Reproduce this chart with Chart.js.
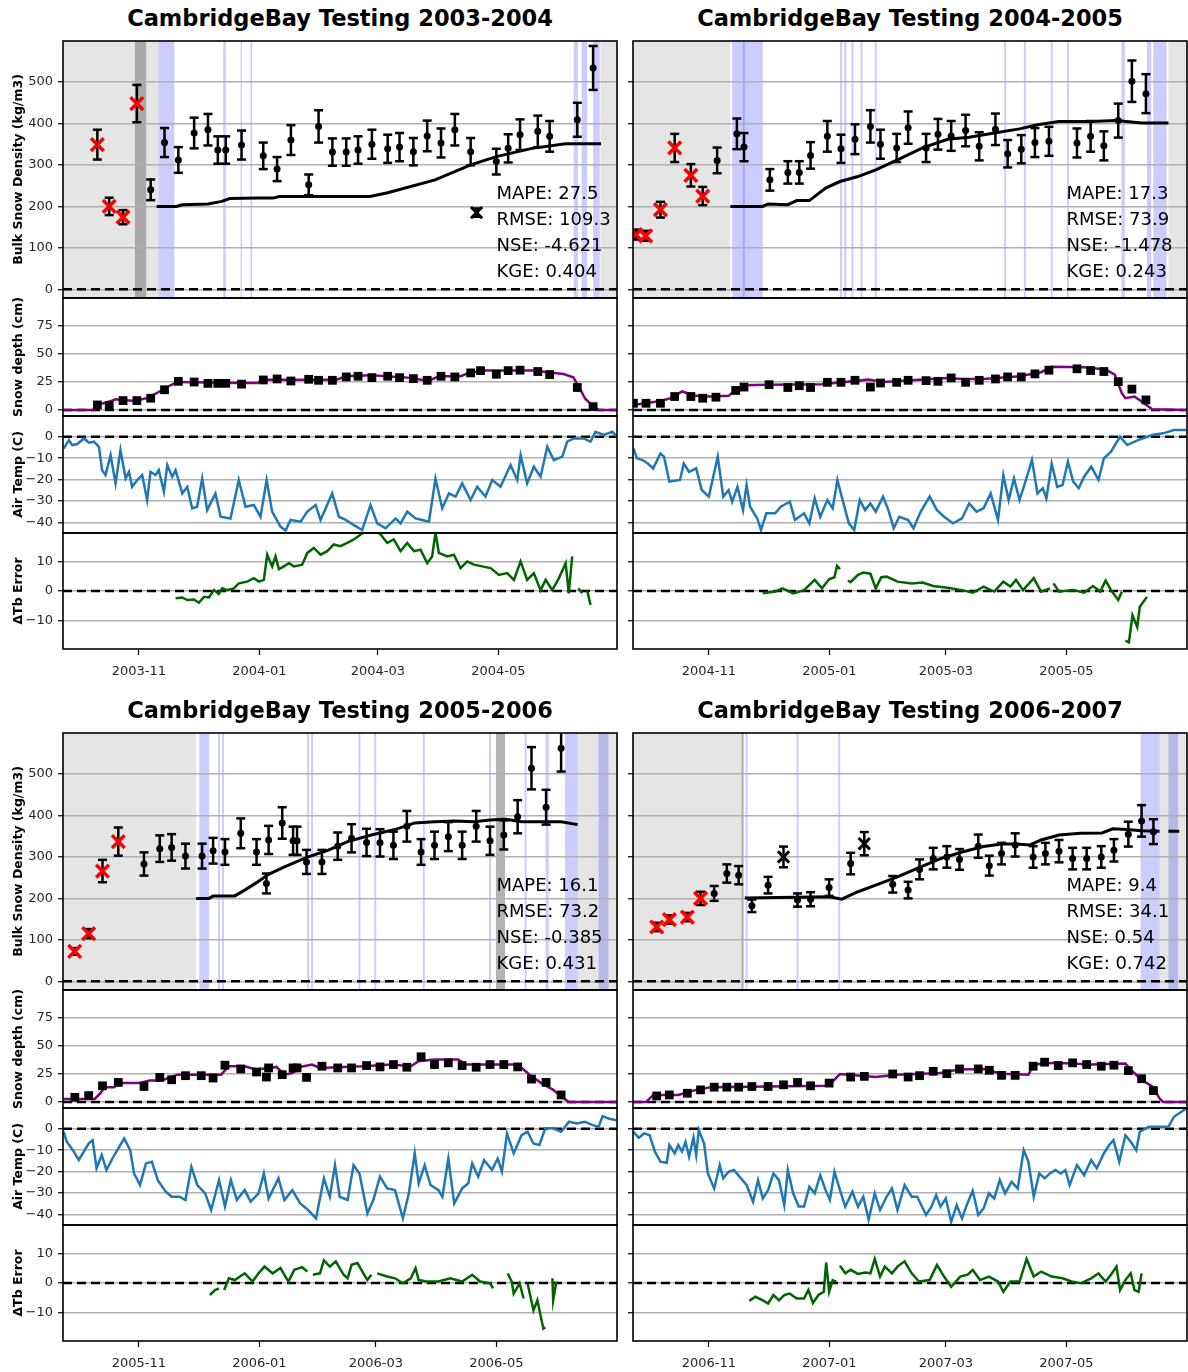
<!DOCTYPE html>
<html>
<head>
<meta charset="utf-8">
<script src="https://cdn.jsdelivr.net/npm/chart.js@4.4.1/dist/chart.umd.min.js"></script>
<style>
  html, body { margin: 0; padding: 0; background: #fff; overflow: hidden; }
  #stage { position: relative; width: 1188px; height: 1372px; overflow: hidden; background: #fff; }
  .title { position: absolute; width: 554px; text-align: center; font: bold 22.5px 'DejaVu Sans', sans-serif; line-height: 26px; color: #000; white-space: nowrap; }
  canvas { position: absolute; }
</style>
</head>
<body>
<div id="stage"></div>
<script>
// x values are days counted from 1 November of each season's first year

// ---- 2003-2004 ----
const STATS_0304 = ['MAPE: 27.5', 'RMSE: 109.3', 'NSE: -4.621', 'KGE: 0.404'];
// [day, density, error, kind]  kind: r = flagged (red x), k = normal, x = black x
const OBS_0304 = [
  [-21, 349, 36, 'r'], [-15, 200, 21, 'r'], [-8, 174, 17, 'r'], [-1, 448, 45, 'r'],
  [6, 240, 25, 'k'], [13, 354, 35, 'k'], [20, 312, 31, 'k'], [28, 377, 37, 'k'], [35, 385, 38, 'k'],
  [40, 336, 33, 'k'], [44, 336, 33, 'k'], [52, 348, 35, 'k'], [63, 322, 32, 'k'], [70, 290, 29, 'k'],
  [77, 360, 36, 'k'], [86, 252, 25, 'k'], [91, 393, 39, 'k'], [98, 331, 33, 'k'], [105, 331, 33, 'k'],
  [111, 336, 33, 'k'], [118, 350, 35, 'k'], [126, 339, 34, 'k'], [132, 343, 34, 'k'], [139, 332, 33, 'k'],
  [146, 370, 37, 'k'], [153, 353, 35, 'k'], [160, 385, 38, 'k'], [168, 332, 33, 'k'], [171, 185, 10, 'x'],
  [181, 308, 31, 'k'], [187, 340, 34, 'k'], [193, 373, 37, 'k'], [202, 381, 38, 'k'], [208, 369, 37, 'k'],
  [222, 409, 41, 'k'], [230, 534, 53, 'k']
];
const MODEL_0304 = [[9, 200], [19, 200], [22, 204], [35, 206], [42, 212], [46, 219], [60, 220], [68, 220], [71, 224],
  [117, 224], [126, 233], [150, 264], [168, 300], [181, 320], [199, 340], [216, 351], [234, 351]];
// [from, to, kind]  g = light gray, d = dark gray, b = blue
const SPANS_0304 = [[-38.4, 10, 'g'], [233.7, 242.1, 'g'], [-2, 3.7, 'd'], [10, 18, 'b'], [42.7, 44, 'b'],
  [51.5, 52.2, 'b'], [56.5, 57.4, 'b'], [220.2, 222.3, 'b'], [224.2, 227, 'b'], [230, 233.4, 'b']];
const DEPTH_OBS_0304 = [[-21, 4.5], [-15, 4], [-8, 8.4], [-1, 8.4], [6, 10.5], [13, 18], [20, 25.5], [28, 24.9],
  [35, 23.7], [40, 23.7], [44, 23.7], [52, 23], [63, 26.7], [70, 27.6], [77, 25.8], [86, 27.3], [91, 26.4],
  [98, 26.4], [105, 29.4], [111, 30], [118, 28.8], [126, 30], [132, 28.8], [139, 27.9], [146, 26.4], [153, 30],
  [160, 29.4], [168, 33], [173, 35], [181, 31.8], [187, 35], [193, 35.4], [202, 34.2], [208, 31.5], [222, 20], [230, 3]];
const DEPTH_MODEL_0304 = [[-38.4, 0], [-23, 0], [-20, 5], [-14, 8], [-12, 9.5], [-2, 8], [5, 11], [12, 18], [16, 22],
  [20, 25], [50, 24], [60, 24], [63, 27], [90, 27], [100, 27], [105, 30], [117, 31], [125, 30], [135, 29], [143, 27],
  [148, 27], [152, 30], [163, 30], [167, 33], [175, 35], [200, 35], [205, 34], [215, 32], [220, 29], [223, 20],
  [226, 10], [229, 5], [233, 0], [242.1, 0]];
const AIRT_0304 = [[-38, -5.5], [-35.4, -1.6], [-33.7, -3.9], [-31.2, -3.4], [-27.8, -0.8], [-25.3, -2.8], [-22.7, -2.3],
  [-20.2, -4.7], [-18.6, -15.6], [-16.9, -17.9], [-14.3, -8.6], [-11.8, -21.8], [-9.3, -6.2], [-6.7, -19.5], [-5, -16.4],
  [-3.4, -23.4], [-0.8, -20.2], [1.7, -17.9], [4.2, -29.6], [5.9, -16.4], [8.4, -17.9], [10.1, -15.6], [12.7, -25.7],
  [14.4, -13.2], [16.9, -18.7], [18.6, -15.6], [22, -26.5], [24.5, -23.4], [27, -33.5], [29.5, -32.7], [32.1, -19.5],
  [34.6, -34.3], [38.8, -26.5], [41.4, -37.4], [46.4, -38.2], [50.6, -20.2], [54, -32.7], [58.2, -31.9], [61.6, -37.4],
  [64.7, -20.2], [67.5, -35], [71.7, -42], [74.3, -43.9], [76.8, -38.9], [81.9, -39.7], [85.3, -35], [89.5, -31.9],
  [92, -38.9], [97.9, -26.5], [101.3, -37.4], [104.7, -38.9], [108.9, -41.3], [113.1, -43.6], [117.3, -31.9],
  [120.7, -40.5], [124.9, -42.8], [130, -38.2], [132.5, -40.5], [135.9, -35], [140.1, -38.2], [143.5, -38.9],
  [146.9, -39.7], [150.2, -19.5], [153.6, -33.5], [157, -26.5], [160.4, -28], [163.7, -21.8], [168, -29.6],
  [171.3, -23.4], [175.5, -28], [178.9, -20.2], [183.1, -23.4], [188.2, -13.2], [191.6, -20.2], [193.3, -8.6],
  [196.6, -21.8], [200, -14], [203.4, -18.7], [206.8, -4.7], [210.1, -10.9], [214.4, -9.3], [216.9, -2.3],
  [220.3, -0.8], [225.3, -0.8], [228.7, -2.3], [231.2, 2.3], [235.5, 0.8], [239.7, 2.3], [242.2, 0]];
const DTB_0304 = [[18.6, -2.5], [22, -2.2], [24.5, -3.1], [27.9, -2.9], [30.4, -4], [33, -2], [35.5, -2.2], [38, 0.3],
  [40.5, -1], [42.2, 0.9], [44.7, 0.3], [48.1, 0.9], [50.6, 2.6], [54.9, 3.2], [58.2, 4.4], [60.8, 3.2], [63.3, 3.8],
  [65, 12.4], [67.5, 8.4], [69.2, 11.8], [70.9, 7.5], [73.4, 8.4], [76, 9.5], [78.5, 8.4], [82.7, 9], [85.3, 13],
  [88.6, 14.7], [92, 12.4], [95.4, 13.6], [98.7, 15.9], [102.1, 15.3], [105.5, 16.4], [108.9, 17.6], [112.3, 19.3],
  [115.6, 20.5], [119, 21], [122.4, 19.3], [125.8, 16.4], [129.1, 17.6], [132.5, 13.6], [135.9, 16.4], [139.3, 13.6],
  [142.6, 14.1], [146, 9.5], [148.5, 11.8], [150.2, 19.9], [151.9, 13], [156.1, 11.8], [159.5, 12.4], [162.9, 7.8],
  [166.3, 10.1], [169.6, 9], [173.9, 8.4], [178.1, 7.8], [182.3, 5.5], [186.5, 6.1], [189.9, 3.8], [193.3, 10.1],
  [196.6, 3.8], [200, 6.1], [203.4, 0.3], [206, 3.8], [209.3, 0.3], [212.7, 4.4], [216.1, 9.5], [217.7, -0.8],
  [219.4, 11.8], [220.5, null], [222.5, 0.9], [224.5, -0.8], [225.5, null], [227, 0.1], [228.7, -4.8]];

// ---- 2004-2005 ----
const STATS_0405 = ['MAPE: 17.3', 'RMSE: 73.9', 'NSE: -1.478', 'KGE: 0.243'];
const OBS_0405 = [
  [-37, 132, 12, 'r'], [-32, 129, 12, 'r'], [-24.5, 192, 19, 'r'], [-17.3, 341, 34, 'r'], [-9.1, 275, 27, 'r'],
  [-3.1, 225, 22, 'r'], [4.2, 311, 31, 'k'], [14.2, 375, 37, 'k'], [17.8, 343, 34, 'k'], [30.9, 264, 26, 'k'],
  [40, 282, 27, 'k'], [45.8, 282, 27, 'k'], [51.5, 323, 32, 'k'], [60, 369, 37, 'k'], [66.9, 339, 34, 'k'],
  [74, 362, 36, 'k'], [81.8, 393, 39, 'k'], [86.9, 350, 35, 'k'], [95.1, 341, 34, 'k'], [100.9, 390, 39, 'k'],
  [110, 341, 34, 'k'], [116, 374, 37, 'k'], [122.7, 370, 36, 'k'], [130, 383, 38, 'k'], [136.9, 345, 34, 'k'],
  [145.1, 386, 38, 'k'], [151.3, 327, 33, 'k'], [158.2, 338, 34, 'k'], [165.1, 354, 35, 'k'], [172.2, 357, 35, 'k'],
  [186.4, 353, 35, 'k'], [193.3, 369, 37, 'k'], [200, 346, 35, 'k'], [207.3, 407, 41, 'k'], [214.2, 502, 50, 'k'],
  [221.3, 472, 47, 'k']
];
const MODEL_0405 = [[10.9, 200], [27.3, 200], [30, 206], [40, 204], [44.5, 214], [50.9, 214], [59.1, 244], [66.4, 260],
  [75.5, 272], [84.5, 288], [95.5, 312], [108.2, 341], [120.9, 362], [131.8, 367], [144.5, 377], [157.3, 387],
  [166.4, 397], [177.3, 405], [193.6, 405], [206.4, 407], [219.1, 401], [232.7, 401]];
const SPANS_0405 = [[-38.4, 10.9, 'g'], [232.7, 242.1, 'g'], [11.8, 27.3, 'b'], [17.2, 18.2, 'b'], [66.4, 67.5, 'b'],
  [68.5, 69.6, 'b'], [72.2, 73.2, 'b'], [76.8, 77.8, 'b'], [84, 85, 'b'], [149.5, 150.5, 'b'], [159.5, 160.5, 'b'],
  [173.1, 174.1, 'b'], [181.3, 182.3, 'b'], [208.9, 210.6, 'b'], [221.8, 224, 'b'], [225, 231.8, 'b']];
const DEPTH_OBS_0405 = [[-38.2, 6], [-31.8, 6], [-24.5, 6], [-17.3, 12], [-9.1, 12], [-3.1, 10.5], [3.6, 11.4],
  [13.6, 17.4], [17.8, 20.4], [30.5, 22.5], [40, 20], [45.8, 21.6], [51.5, 20], [60, 24.6], [66.9, 24.6], [74, 26.4],
  [81.8, 20.4], [86.9, 24], [95.1, 24.6], [100.9, 26.4], [110, 26.1], [116, 25.5], [122.7, 28.5], [130, 24.6],
  [136.9, 26.4], [145.1, 27.6], [151.3, 29.4], [158.2, 29.4], [165.1, 32.1], [172.2, 35.4], [186.4, 36.6],
  [193.3, 35.1], [200, 34.2], [207.3, 25.2], [214.2, 18.6], [221.3, 9]];
const DEPTH_MODEL_0405 = [[-38.4, 4.5], [-24.5, 8], [-19.1, 10.5], [-13.6, 16.5], [-6.4, 12.6], [0.9, 12], [10, 12.6],
  [13.6, 18], [17.3, 22], [30, 22.5], [57.3, 23], [80.9, 27], [88.2, 25], [120.9, 28.5], [128.2, 27.6], [139.1, 27.6],
  [157.3, 30], [168.2, 33.6], [173.6, 38.4], [190, 38], [200.9, 36], [205.5, 31.5], [209.1, 15], [210.9, 10.5],
  [215.5, 12], [219.1, 7.5], [224.5, 0.6], [242.1, 0]];
const AIRT_0405 = [[-38.2, -5.5], [-36.4, -10.1], [-33.6, -10.9], [-30.9, -12.5], [-28.2, -14.8], [-24.5, -7.8],
  [-22.7, -9.3], [-20, -21], [-14.6, -20.2], [-12.7, -12.5], [-10, -16.4], [-6.4, -14.8], [-3.6, -24.9], [0, -28],
  [4.5, -9.3], [7.3, -28], [10, -24.9], [11.8, -30.4], [14.5, -23.4], [17.3, -34.3], [19.1, -22.6], [20.9, -32.7],
  [24.5, -38.2], [26.4, -43.6], [29.1, -35.8], [33.6, -35.8], [36.4, -32.7], [41, -30.4], [43.6, -38.9], [48.2, -35.8],
  [50.9, -40.5], [53.6, -28.8], [56.4, -37.4], [60, -29.6], [62.7, -33.5], [65.1, -20.2], [68.2, -31.2], [70.9, -40.5],
  [73.6, -43.6], [76.4, -29.6], [79.1, -34.3], [81.8, -31.2], [84.5, -35], [88.2, -28], [90.9, -34.3], [93.6, -42.8],
  [96.4, -37.4], [100.9, -38.9], [103.6, -42.8], [107.3, -35], [111.8, -28], [115.5, -34.3], [119.1, -37.4],
  [123.6, -40.5], [128.2, -38.2], [131.8, -31.2], [135.5, -35], [139.1, -33.5], [142.7, -26.5], [146.4, -38.9],
  [149.1, -17.9], [151.8, -29.6], [154.5, -19.5], [157.3, -29.6], [160, -21.8], [163.6, -10.9], [166.4, -26.5],
  [169.1, -24.1], [170.9, -28.8], [173.6, -12.5], [176.4, -23.4], [179.1, -22.6], [181.8, -11.7], [184.5, -21],
  [187.3, -24.1], [190, -18.7], [193.6, -14], [197.3, -20.2], [200, -10.1], [203.6, -7], [208.2, 0], [211.8, -3.9],
  [217.3, -1.6], [224.5, 0.8], [230, 1.6], [235.5, 3.1], [241.8, 3.1]];
const DTB_0405 = [[27.3, -0.8], [33.6, -0.2], [37.3, 0.9], [42.7, -0.8], [48.2, 0.3], [53.6, 3.8], [57.3, 0.9],
  [60.9, 4], [63.6, 4.7], [64.9, 8.6], [66.4, 7.5], [68, null], [70.4, 3.6], [71.8, 3], [75.5, 5.5], [78.2, 6.3],
  [81.8, 5.9], [84.5, 0.9], [87.3, 4.7], [90, 4.9], [95.5, 3.2], [102.7, 2.6], [108.2, 2.9], [113.6, 1.7], [120.9, 1.1],
  [128.2, 0.3], [133.6, -0.6], [139.1, 1.5], [144.5, -0.2], [149.1, 3.2], [152.7, 1.5], [155.5, 3.8], [159.1, 0.3],
  [164.5, 4.4], [168.2, -0.2], [172.7, 0.9], [173.6, null], [174.5, 2.6], [177.3, -0.2], [184.5, 0.3], [190, -0.6],
  [194.5, 1.7], [198.2, -0.2], [200.9, 3.6], [203.6, 0.3], [207.3, -3.1], [209.1, -0.2], [210, null], [210.9, -16.9],
  [212.7, -17.5], [214.5, -8.3], [216.9, -12.3], [218.2, -5.4], [221.8, -2]];

// ---- 2005-2006 ----
const STATS_0506 = ['MAPE: 16.1', 'RMSE: 73.2', 'NSE: -0.385', 'KGE: 0.431'];
const OBS_0506 = [
  [-32.5, 72, 8, 'r'], [-25.4, 115, 11, 'r'], [-18.4, 266, 27, 'r'], [-10.4, 337, 34, 'r'],
  [2.6, 283, 28, 'k'], [10.6, 320, 32, 'k'], [16.6, 323, 32, 'k'], [23.6, 302, 30, 'k'], [32, 302, 30, 'k'],
  [37.6, 315, 31, 'k'], [43.6, 312, 31, 'k'], [51.6, 357, 36, 'k'], [59.6, 312, 31, 'k'], [64.6, 236, 24, 'k'],
  [65.7, 341, 34, 'k'], [72.6, 382, 38, 'k'], [78.1, 339, 34, 'k'], [80.1, 339, 34, 'k'], [84.9, 288, 29, 'k'],
  [92.7, 288, 29, 'k'], [100.7, 326, 33, 'k'], [107.7, 345, 34, 'k'], [115.3, 335, 33, 'k'], [122.1, 334, 33, 'k'],
  [128.9, 328, 33, 'k'], [135.7, 374, 37, 'k'], [142.9, 312, 31, 'k'], [149.7, 328, 33, 'k'], [156.7, 349, 35, 'k'],
  [163.7, 328, 33, 'k'], [170.8, 374, 37, 'k'], [177.8, 339, 34, 'k'], [184.8, 353, 35, 'k'], [191.8, 397, 40, 'k'],
  [198.8, 514, 51, 'k'], [206.2, 420, 42, 'k'], [213.8, 562, 56, 'k']
];
const MODEL_0506 = [[29, 200], [35.6, 200], [37.6, 206], [48.6, 206], [53.6, 220], [59.6, 238], [65.7, 258],
  [73.7, 276], [85.7, 300], [95.7, 316], [105.7, 337], [117.7, 353], [129.7, 366], [139.7, 382], [149.7, 385],
  [159.7, 387], [169.7, 385], [177.7, 389], [185.8, 391], [193.8, 385], [213.8, 385], [222.2, 378]];
const SPANS_0506 = [[-38.4, 29, 'g'], [222.2, 242.1, 'g'], [180.8, 185.4, 'd'], [30.6, 35.6, 'b'], [40.1, 41.1, 'b'],
  [42.1, 43.1, 'b'], [85.2, 86.2, 'b'], [87.2, 88.2, 'b'], [111.2, 112.2, 'b'], [119.2, 120.2, 'b'], [143.8, 144.8, 'b'],
  [177.3, 178.3, 'b'], [195.3, 196.3, 'b'], [206, 207.5, 'b'], [215.8, 222.2, 'b'], [232.8, 237.8, 'b']];
const DEPTH_OBS_0506 = [[-32.4, 4.2], [-25.4, 5.7], [-18.4, 14.4], [-10.4, 17.4], [2.6, 13.8], [10.6, 21.9],
  [16.6, 19.8], [23.6, 23.4], [31.6, 23.4], [37.6, 21.3], [43.6, 32.7], [51.6, 29.4], [59.6, 26.7], [64.6, 22.2],
  [65.7, 30.3], [72.6, 24.3], [78.1, 30.3], [80.1, 30.3], [84.9, 21.9], [92.7, 31.8], [100.7, 30.3], [107.7, 30.3],
  [115.3, 32.4], [122.1, 31.2], [128.9, 33.3], [135.7, 30.9], [142.9, 40.2], [149.7, 33.3], [156.7, 34.8],
  [163.7, 32.4], [170.8, 30.9], [177.8, 33.3], [184.8, 33.3], [191.8, 31.2], [198.8, 20.4], [206.2, 17.4], [213.8, 6.3]];
const DEPTH_MODEL_0506 = [[-38.4, 2.7], [-22.4, 2.7], [-19.4, 7.8], [-17.4, 13.2], [-12.4, 13.2], [-10.4, 16.8],
  [-0.4, 16.8], [5.6, 19.2], [11.6, 19.2], [19.6, 24.3], [41.6, 24.3], [45.6, 31.8], [53.6, 31.8], [59.6, 28.8],
  [69.7, 31.2], [73.7, 24.3], [77.7, 25.8], [81.7, 31.2], [87.7, 33.3], [91.7, 30.3], [103.7, 31.2], [113.7, 31.8],
  [127.7, 33.3], [137.7, 31.8], [141.7, 36.3], [149.7, 37.8], [161.7, 37.8], [165.7, 33.3], [189.8, 33.3],
  [193.8, 30.3], [197.8, 24.3], [203.8, 16.8], [209.8, 10.8], [213.8, 4.8], [217.8, 0], [242.1, 0]];
const AIRT_0506 = [[-38.1, -1.4], [-36.5, -6.1], [-33.4, -10], [-30.4, -14.6], [-28.4, -11.5], [-25.4, -6.9],
  [-23.4, -5.3], [-21.4, -18.5], [-18.8, -12.3], [-16.4, -19.3], [-13.4, -13.9], [-10.4, -9.2], [-7.4, -4.5],
  [-4.4, -10], [-2.4, -20.9], [0.6, -26.3], [3.6, -16.2], [6.6, -15.4], [9.6, -24], [13.6, -29.4], [16.6, -31.8],
  [20.6, -31.8], [23.6, -33.3], [26.6, -17.8], [29.6, -26.3], [33.6, -30.2], [36.6, -38], [40.6, -24], [43.6, -36.4],
  [46.6, -24], [49.6, -33.3], [53.6, -28.7], [56.6, -34.1], [60.6, -30.2], [63.3, -20.9], [65.7, -32.6], [70.7, -23.2],
  [73.7, -33.3], [77.7, -28.7], [81.7, -34.9], [85.7, -38], [89.7, -41.9], [93.7, -23.2], [96.7, -31.8], [99.3, -17],
  [101.7, -31.8], [105.7, -33.3], [108.7, -17], [111.7, -20.9], [115.7, -39.6], [118.7, -33.3], [122.1, -22.4],
  [125.7, -27.9], [129.7, -28.7], [133.7, -41.9], [136.7, -30.2], [139.7, -11.5], [141.7, -25.5], [144.7, -17],
  [147.7, -26.3], [151.7, -28.7], [153.7, -31.8], [156.7, -13.9], [159.7, -34.9], [163.7, -27.9], [166.8, -25.5],
  [168.8, -16.2], [171.8, -22.4], [174.8, -14.6], [178.8, -19.3], [181.7, -13.9], [183.8, -20.1], [186.4, -2.2],
  [189.8, -11.5], [193.8, -3], [196.8, -1.4], [199.8, -6.9], [202.8, -7.6], [205.8, 0.2], [209.8, 0.2], [213.8, -1.4],
  [217.8, 3.3], [221.8, 2.5], [225.8, 3.3], [229.8, 1.7], [232.8, 0.9], [234.8, 5.9], [237.8, 4.8], [241.8, 4]];
const DTB_0506 = [[36, -4.1], [38.6, -2.4], [40.6, -1.8], [41.8, null], [43.2, -2.4], [45.6, 1.6], [48.6, 1],
  [53.6, 3.3], [57.6, 0.5], [60.6, 3.3], [63.6, 5.6], [67.7, 3.3], [71.7, 5.1], [75.7, 0.5], [78.7, 4.5], [82.7, 5.4],
  [85.3, 3.9], [86.7, null], [88.1, 2.8], [91.7, 3.3], [93.7, 7.7], [96.7, 5.6], [99.7, 7.4], [103.7, 2.8],
  [105.7, 1.6], [107.7, 6.2], [110.7, 6.8], [113.7, 3.3], [115.7, 1], [117.7, 2.8], [119.2, null], [120.7, 3.3],
  [125.7, 2.2], [129.7, 1.6], [133.7, -0.1], [137.7, 1.6], [140.1, 5.1], [141.7, 1], [145.7, 0.5], [151.7, 0.5],
  [157.7, 1.6], [163.7, 0.5], [168.8, 2.8], [172.8, 0.5], [177.8, -0.1], [179.4, -1.8], [183, null], [186.8, 3.3],
  [188.8, 0.5], [189.8, -3.6], [192.8, -0.1], [194.8, -5.3], [195.8, null], [196.8, -0.1], [199.8, -9.3],
  [201.8, -5.9], [204.8, -15.6], [205.8, -15.1], [207.5, null], [209.4, 1.6], [209.8, -5.9], [211.4, 0.5]];

// ---- 2006-2007 ----
const STATS_0607 = ['MAPE: 9.4', 'RMSE: 34.1', 'NSE: 0.54', 'KGE: 0.742'];
const OBS_0607 = [
  [-26.4, 131, 10, 'r'], [-20, 149, 10, 'r'], [-10.9, 155, 10, 'r'], [-4.2, 200, 16, 'r'],
  [2.7, 212, 18, 'k'], [9.1, 260, 22, 'k'], [15.1, 256, 22, 'k'], [21.8, 182, 15, 'k'], [30, 232, 20, 'k'],
  [37.8, 300, 25, 'x'], [44.9, 196, 16, 'k'], [51.5, 198, 17, 'k'], [60.9, 226, 20, 'k'], [71.8, 284, 26, 'k'],
  [78.7, 332, 28, 'x'], [93.1, 234, 20, 'k'], [100.9, 220, 20, 'k'], [106.7, 270, 24, 'k'], [113.6, 296, 26, 'k'],
  [120.5, 300, 26, 'k'], [126.9, 294, 25, 'k'], [136.4, 326, 28, 'k'], [142, 279, 24, 'k'], [148.2, 308, 26, 'k'],
  [155.1, 329, 28, 'k'], [164.2, 300, 26, 'k'], [170.4, 308, 26, 'k'], [177.3, 314, 27, 'k'], [184.2, 296, 26, 'k'],
  [191.3, 296, 26, 'k'], [198.7, 300, 26, 'k'], [205.1, 316, 27, 'k'], [212.4, 355, 30, 'k'], [219.1, 387, 38, 'k'],
  [225.1, 361, 30, 'k']
];
const MODEL_0607 = [[18.2, 201], [60.9, 204], [67.3, 198], [75.5, 216], [84.5, 232], [95.5, 252], [106.4, 274],
  [117.3, 296], [128.2, 312], [139.1, 325], [148.2, 331], [155.5, 331], [162.7, 329], [168.2, 341], [177.3, 353],
  [188.2, 357], [199.1, 358], [204.5, 368], [211.8, 366], [219.1, 363], [228.2, 362], [230, null], [232.7, 362],
  [238.2, 362]];
const SPANS_0607 = [[-38.4, 17.3, 'g'], [228.2, 242.1, 'g'], [16.6, 17.6, 'd'], [18.6, 19.6, 'b'], [44.4, 45.4, 'b'],
  [65.5, 66.5, 'b'], [218.6, 228.2, 'b'], [232.7, 237.6, 'b']];
const DEPTH_OBS_0607 = [[-26.4, 5.4], [-20, 6.3], [-10.9, 7.8], [-4.2, 10.8], [2.7, 13.2], [9.1, 13.2], [15.1, 13.2],
  [21.8, 13.8], [30, 13.8], [37.8, 15.3], [44.9, 17.4], [51.5, 14.4], [60.9, 16.8], [71.8, 22.2], [78.7, 22.8],
  [93.1, 24.9], [100.9, 22.2], [106.7, 23.4], [113.6, 27.3], [120.5, 25.2], [126.9, 29.4], [136.4, 29.4], [142, 28.2],
  [148.2, 23.7], [155.1, 23.7], [164.2, 31.8], [170, 35.4], [176.9, 32.4], [184.2, 34.8], [191.3, 33.3], [198.7, 31.8],
  [205.1, 32.7], [212.4, 27.9], [219.1, 20.7], [225.1, 10.2]];
const DEPTH_MODEL_0607 = [[-38.4, 0], [-31.8, 0], [-28.2, 6.3], [-15.5, 6.3], [-6.4, 10.8], [0.9, 13.2], [59.1, 14.4],
  [62.7, 18.3], [66.4, 24.9], [84.5, 22.2], [95.5, 24.3], [117.3, 25.8], [126.4, 28.8], [139.1, 29.4], [148.2, 25.2],
  [161.8, 24.3], [164.5, 33.3], [175.5, 34.8], [193.6, 33.3], [210.9, 34.2], [213.6, 28.8], [219.1, 19.8],
  [224.5, 13.8], [228.2, 3.3], [230, 0], [242.1, 0]];
const AIRT_0607 = [[-38.2, -1.4], [-35.5, -4.2], [-32.7, -2.2], [-30, -3], [-27.3, -10.7], [-24.5, -15.4],
  [-21.3, -15.9], [-20, -7.6], [-17.3, -11.5], [-15.5, -7.6], [-13.6, -10.7], [-11.8, -6.1], [-10, -13.1],
  [-7.8, -4.1], [-6.4, -12.3], [-5.1, -0.6], [-2.4, -6.9], [-0.5, -20.9], [2.7, -27.9], [5.5, -17], [7.3, -23.2],
  [10, -20.1], [12.7, -19.3], [15.5, -22.4], [19.1, -26.3], [22.4, -34.1], [24.9, -24], [27.3, -32.6], [30, -28.7],
  [32.7, -20.9], [35.5, -24], [38.2, -35.7], [40, -19.3], [42.7, -30.2], [45.5, -36.4], [48.2, -36.4], [50.9, -27.1],
  [53.6, -30.2], [56.4, -21.7], [59.1, -28.7], [61.3, -33.3], [63.6, -20.1], [66.4, -28.7], [69.1, -36.4],
  [72.7, -29.4], [75.5, -36.4], [78.2, -31.8], [80.9, -42.4], [84, -30.2], [86.7, -38], [90, -31.8], [92.7, -27.9],
  [95.5, -38], [99.1, -26.3], [102.7, -31.8], [105.5, -31.8], [110, -40.3], [112.7, -36.4], [115.1, -31],
  [117.3, -36.4], [120, -32.6], [122.7, -43.5], [125.5, -35.7], [128.2, -41.9], [130.9, -34.9], [133.6, -29],
  [136.4, -40.3], [139.1, -37.2], [141.8, -30.2], [144.5, -32.6], [147.3, -24], [150, -30.2], [153.3, -24.8],
  [156.4, -27.9], [159.4, -10], [161.8, -15.4], [164.5, -31.8], [167.3, -20.9], [170, -23.2], [172.7, -20.9],
  [175.5, -19.3], [178.2, -20.9], [180.5, -19.3], [182.7, -26.3], [186.4, -17], [190, -21.7], [193.6, -14.6],
  [196.4, -18.5], [200, -11.5], [202.7, -7.6], [204.9, -5.3], [207.8, -15.4], [210.9, -3], [213.6, -6.1],
  [216.4, -10], [218.2, -1.4], [222.7, 0.9], [228.2, 0.9], [232.7, 0.9], [235.5, 5.6], [241.8, 9.5]];
const DTB_0607 = [[20.5, -6.1], [23.6, -4.7], [27.3, -5.9], [30, -7], [32.7, -4.1], [35.5, -5.9], [38.2, -4.1],
  [40.9, -3.6], [44.5, -5.3], [48.2, -5.3], [50.4, -2.4], [52.7, -6.8], [55.5, -4.1], [58.2, -3], [59.4, 7],
  [60.9, -3], [62.7, 1], [64.5, 0.5], [65.5, null], [66.4, 5.9], [69.1, 3.3], [71.8, 4.5], [75.5, 3.1], [79.1, 3.6],
  [81.8, 3.3], [84, 8.2], [86.7, 2.2], [89.1, 5.6], [92.7, 3.3], [95.5, 5.6], [99.1, 7.4], [102.7, 3.3], [106.4, 0.5],
  [111.8, 1], [115.5, 6.2], [119.1, 2.2], [122.7, -1.3], [127.3, 2.2], [130.9, 2.8], [133.6, 4.5], [137.3, 1],
  [141.8, 2.2], [146.4, 0.5], [149.1, -3], [152.7, 0.5], [157.3, 0.5], [160.9, 8.2], [164.5, 2.2], [168.2, 3.9],
  [173.6, 2.2], [179.1, 1.6], [183.6, 0.5], [188.2, -0.1], [193.6, 1.6], [197.3, 3.3], [200.9, 0.5], [203.6, 2.8],
  [206.4, 5.6], [208.2, -2.4], [210.9, 1], [213.6, 3.3], [215.5, -2.4], [217.6, -3], [219.1, 3.3]];

// ---- layout ----
const FONT = "'DejaVu Sans', sans-serif";
const X_MIN = -38.4, X_MAX = 242.1;
const PLOT_W = 554;
const BOX_TOP = [41, 298, 416, 533];
const BOX_BOTTOM = [298, 416, 533, 649];
const ROW_SHIFT = 692;
const TICK_MONTHS = [[0, 11], [1, 1], [1, 3], [1, 5]];
const SPAN_COLORS = { g: 'rgba(211,211,211,0.6)', d: 'rgba(128,128,128,0.6)', b: 'rgba(0,0,255,0.2)' };

const SUBPLOTS = [
  { title: 'Bulk Snow Density (kg/m3)', min: -21, max: 599, step: 100 },
  { title: 'Snow depth (cm)', min: -5.3, max: 99.5, step: 25 },
  { title: 'Air Temp (C)', min: -45, max: 9.7, step: 10 },
  { title: '\u0394Tb Error', min: -19.8, max: 19.8, step: 10 }
];

const PANELS = [
  { season: '2003-2004', y0: 2003, col: 0, row: 0, obs: OBS_0304, model: MODEL_0304, spans: SPANS_0304, stats: STATS_0304,
    depthObs: DEPTH_OBS_0304, depthModel: DEPTH_MODEL_0304, airt: AIRT_0304, dtb: DTB_0304 },
  { season: '2004-2005', y0: 2004, col: 1, row: 0, obs: OBS_0405, model: MODEL_0405, spans: SPANS_0405, stats: STATS_0405,
    depthObs: DEPTH_OBS_0405, depthModel: DEPTH_MODEL_0405, airt: AIRT_0405, dtb: DTB_0405 },
  { season: '2005-2006', y0: 2005, col: 0, row: 1, obs: OBS_0506, model: MODEL_0506, spans: SPANS_0506, stats: STATS_0506,
    depthObs: DEPTH_OBS_0506, depthModel: DEPTH_MODEL_0506, airt: AIRT_0506, dtb: DTB_0506 },
  { season: '2006-2007', y0: 2006, col: 1, row: 1, obs: OBS_0607, model: MODEL_0607, spans: SPANS_0607, stats: STATS_0607,
    depthObs: DEPTH_OBS_0607, depthModel: DEPTH_MODEL_0607, airt: AIRT_0607, dtb: DTB_0607 }
];

Chart.defaults.font.family = FONT;

function xTicks(y0) {
  const origin = Date.UTC(y0, 10, 1);
  return TICK_MONTHS.map(([dy, m]) => ({
    value: (Date.UTC(y0 + dy, m - 1, 1) - origin) / 864e5,
    label: (y0 + dy) + '-' + String(m).padStart(2, '0')
  }));
}

const pts = pairs => pairs.map(([x, y]) => ({ x, y }));

function line(pairs, color, width) {
  return { type: 'line', data: pts(pairs), borderColor: color, borderWidth: width, pointRadius: 0,
    spanGaps: false, clip: 0, tension: 0 };
}

function zeroLine() {
  return { type: 'line', data: pts([[X_MIN, 0], [X_MAX, 0]]), borderColor: '#000', borderWidth: 2.5,
    borderDash: [9, 5], pointRadius: 0, clip: 0 };
}

function markers(pairs, style, radius, color, width) {
  return { type: 'scatter', data: pts(pairs), pointStyle: style, pointRadius: radius, pointBackgroundColor: color,
    pointBorderColor: color, pointBorderWidth: width, clip: 0 };
}

function densityDatasets(p) {
  const bars = [], caps = [];
  p.obs.forEach(([d, v, e]) => {
    bars.push({ x: d, y: v - e }, { x: d, y: v + e }, { x: d, y: null });
    caps.push([d, v - e], [d, v + e]);
  });
  const kind = k => p.obs.filter(o => o[3] === k).map(o => [o[0], o[1]]);
  return [
    markers(kind('r'), 'crossRot', 9, '#ff0000', 3.5),
    markers(kind('x'), 'crossRot', 8, '#000', 3),
    markers(kind('k'), 'circle', 3.5, '#000', 0),
    markers(caps, 'line', 4.5, '#000', 2.5),
    { type: 'line', data: bars, borderColor: '#000', borderWidth: 2.5, pointRadius: 0, spanGaps: false, clip: 0 },
    line(p.model, '#000', 3),
    zeroLine()
  ];
}

function spanPlugin(spans) {
  return {
    id: 'spans',
    beforeDraw(chart) {
      const { ctx, chartArea: a, scales: { x } } = chart;
      ctx.save();
      ctx.beginPath();
      ctx.rect(a.left, a.top, a.width, a.height);
      ctx.clip();
      ['g', 'd', 'b'].forEach(k => {
        ctx.fillStyle = SPAN_COLORS[k];
        spans.filter(s => s[2] === k).forEach(([from, to]) => {
          const x0 = x.getPixelForValue(from), x1 = x.getPixelForValue(to);
          ctx.fillRect(x0, a.top, x1 - x0, a.height);
        });
      });
      ctx.restore();
    }
  };
}

function statsPlugin(lines) {
  return {
    id: 'stats',
    afterDatasetsDraw(chart) {
      const { ctx, chartArea: a } = chart;
      ctx.save();
      ctx.font = '18px ' + FONT;
      ctx.fillStyle = '#000';
      ctx.textBaseline = 'middle';
      lines.forEach((t, i) => ctx.fillText(t, a.left + 433.5, a.top + 153.5 + i * 25.8));
      ctx.restore();
    }
  };
}

const framePlugin = {
  id: 'frame',
  afterDraw(chart) {
    const { ctx, chartArea: a } = chart;
    ctx.save();
    ctx.strokeStyle = '#000';
    ctx.lineWidth = 1.6;
    ctx.strokeRect(a.left, a.top, a.width, a.height);
    ctx.restore();
  }
};

const stage = document.getElementById('stage');

// axis boxes get a fixed size so every plot area lands on the reference grid
function fixBox(s, w, h) {
  if (w !== null) s.width = w;
  if (h !== null) s.height = h;
  s.paddingTop = 0; s.paddingBottom = 0; s.paddingLeft = 0; s.paddingRight = 0;
}

function subplot(p, k) {
  const spec = SUBPLOTS[k];
  const plotLeft = p.col ? 633 : 63;
  const top = BOX_TOP[k] + p.row * ROW_SHIFT;
  const h = BOX_BOTTOM[k] - BOX_TOP[k];
  const isBottom = k === 3;
  const yw = p.col ? 10 : 63;
  const cw = yw + PLOT_W + 4;
  const ch = h + 12 + (isBottom ? 34 : 0);

  const cv = document.createElement('canvas');
  cv.width = cw;
  cv.height = ch;
  cv.style.left = (plotLeft - yw) + 'px';
  cv.style.top = (top - 6) + 'px';
  cv.style.width = cw + 'px';
  cv.style.height = ch + 'px';
  stage.appendChild(cv);

  const ticks = xTicks(p.y0);
  const labelOf = {};
  ticks.forEach(t => { labelOf[t.value] = t.label; });

  let datasets;
  if (k === 0) datasets = densityDatasets(p);
  else if (k === 1) datasets = [markers(p.depthObs, 'rect', 6.2, '#000', 0), line(p.depthModel, '#800080', 2.5), zeroLine()];
  else if (k === 2) datasets = [line(p.airt, '#1f77b4', 2.5), zeroLine()];
  else datasets = [line(p.dtb, '#006400', 2.5), zeroLine()];

  const plugins = [framePlugin];
  if (k === 0) plugins.push(spanPlugin(p.spans), statsPlugin(p.stats));

  new Chart(cv, {
    type: 'scatter',
    data: { datasets },
    options: {
      responsive: false,
      animation: false,
      devicePixelRatio: 1,
      events: [],
      layout: { autoPadding: false, padding: { left: 0, right: 4, top: 6, bottom: 6 } },
      plugins: { legend: { display: false }, tooltip: { enabled: false } },
      scales: {
        x: {
          type: 'linear',
          min: X_MIN,
          max: X_MAX,
          display: isBottom,
          afterBuildTicks: s => { s.ticks = ticks.map(t => ({ value: t.value })); },
          afterFit: s => fixBox(s, null, isBottom ? 34 : 0),
          grid: { drawOnChartArea: false, drawTicks: true, tickLength: 6, tickColor: '#000', tickWidth: 1.2 },
          border: { display: false },
          ticks: {
            autoSkip: false, maxRotation: 0, padding: 9, color: '#262626', font: { size: 13 },
            callback: v => labelOf[v] || ''
          }
        },
        y: {
          type: 'linear',
          min: spec.min,
          max: spec.max,
          afterFit: s => fixBox(s, yw, null),
          grid: { color: '#b0b0b0', lineWidth: 1.5, tickColor: '#000', tickLength: 5, tickWidth: 1.2 },
          border: { display: false },
          ticks: {
            display: p.col === 0, stepSize: spec.step, includeBounds: false, padding: 5,
            color: '#262626', font: { size: 13 },
            callback: v => (v < 0 ? '\u2212' + Math.abs(v) : String(v))
          },
          title: {
            display: p.col === 0, text: spec.title, color: '#000',
            font: { size: 12.5, weight: 'bold' }, padding: { top: 11, bottom: 0 }
          }
        }
      }
    },
    plugins
  });
}

PANELS.forEach(p => {
  const t = document.createElement('div');
  t.className = 'title';
  t.textContent = 'CambridgeBay Testing ' + p.season;
  t.style.left = (p.col ? 633 : 63) + 'px';
  t.style.top = (5 + p.row * ROW_SHIFT) + 'px';
  stage.appendChild(t);
  for (let k = 0; k < 4; k++) subplot(p, k);
});
</script>
</body>
</html>
